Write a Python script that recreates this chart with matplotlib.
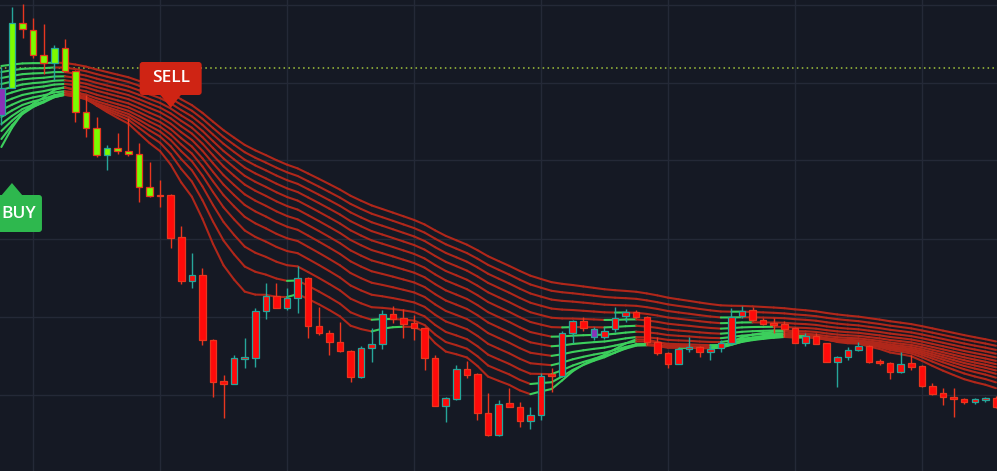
import numpy as np
import matplotlib
matplotlib.use("Agg")
import matplotlib.pyplot as plt
from matplotlib.collections import LineCollection
from matplotlib.patches import FancyBboxPatch, Polygon, Rectangle

# ---------------- data (price units, higher = up) ----------------
opens = [356, 383, 448, 441, 416, 408, 423, 400, 359, 343, 316, 323, 320, 317, 284, 276,
         276, 234, 190, 196, 131, 90, 87, 112.5, 113, 160, 175, 163, 173, 193, 145, 138,
         129, 120, 94, 123, 127, 157, 153, 148, 143, 113, 65, 72, 102, 97, 58, 36,
         68, 64, 50, 56, 97, 95, 138, 150, 134, 134, 142, 155, 159, 154, 129, 118,
         107, 122, 124, 119, 123, 128, 155, 161, 151, 147.5, 147, 143, 128, 135, 128, 109,
         114, 121, 125, 109.5, 108, 99, 108, 105, 85, 78, 74, 72, 69, 71.5, 73]
highs = [404, 464, 467, 453, 447, 426, 432, 401, 376, 354, 326, 338, 353, 328, 309, 291,
         277, 245, 218, 203, 132, 96, 116, 133, 163, 188, 188, 183, 205, 194, 164, 141,
         149, 121, 125, 143, 161, 165, 162, 156, 144, 116, 74, 106, 110, 98, 78, 71,
         83, 69, 64, 98, 103, 140, 151, 154, 144, 144, 164, 162, 161, 155, 134, 119,
         124, 134, 125, 126, 131, 163, 165, 164, 153, 153, 150, 144, 138, 138, 128, 115,
         124, 129, 126, 112, 109, 119, 116, 106, 88, 83, 83, 73, 73, 74, 75]
lows = [346, 383, 433, 413, 397, 391, 399, 349, 334, 314, 301, 317, 315, 269, 274, 264,
        223, 187, 183, 126, 74, 53, 87, 103, 104, 152, 163, 161, 158, 133, 136, 116,
        119, 89, 93, 109, 122, 148, 133, 131, 101, 65, 49, 71, 93, 51, 35, 35,
        64, 44, 42, 51, 79, 94, 128, 140, 131, 132, 139, 149, 153, 126, 116, 103,
        107, 119, 114, 111, 119, 126, 153, 150, 146, 138, 134, 128, 125, 127, 109, 84,
        111, 120, 108, 106, 92, 98, 101, 84, 76, 66, 54, 67, 67, 69, 63]
closes = [383, 448, 442, 416, 408, 423, 400, 359, 343, 316, 323, 320, 317, 284, 275, 275,
          233, 190, 196, 131, 89, 87, 113, 113.5, 160, 175, 163, 173, 193, 145, 138, 129,
          120, 94, 123, 127, 157, 152, 147, 143, 113, 65, 73, 102, 96, 58, 36, 67,
          64, 50, 56, 95, 95, 138, 150, 143, 142, 140, 153, 159, 154, 129, 118, 107,
          122, 124, 119, 122, 128, 154, 160, 151, 147, 146.5, 142, 128, 135, 127, 109, 114,
          121, 125, 109, 108.5, 99, 107, 104, 85, 77, 74, 72, 69, 72, 72.5, 64]
# trend state painted on candle bodies: L = lime, R = red, P = purple
body_state = list("PLLLLLLLLLLLLLLL" + "R" * 40 + "P" + "R" * 38)

# EMA ribbon settings and starting values (read at first visible bar)
ribbon_periods = [12, 16, 20, 24, 28, 32, 36, 40, 44, 48, 52, 56, 60]
ribbon_seed = [324, 332, 340, 347, 354, 361, 368, 375, 381, 387, 393, 399, 405]

signal_labels = ["BUY", "SELL"]
signal_bar = [1, 16]
signal_price = [288, 363]

ref_level = 403
grid_bars = [3, 15, 27, 39, 51, 63, 75, 87]
grid_prices = [76, 154, 232, 311, 388, 466]

# ---------------- styling ----------------
BG = '#151924'
GRID = '#242937'
UP_EDGE = '#26a69a'
DN_EDGE = '#e8361f'
BODY = {'L': '#7CFC00', 'R': '#ff0a0a', 'P': '#8a33b8'}
RIB_RED = '#b0271a'
RIB_GREEN = '#3ccf5c'

W, H = 997, 471
fig = plt.figure(figsize=(W / 100, H / 100), dpi=100)
fig.patch.set_facecolor(BG)
ax = fig.add_axes([0, 0, 1, 1])
ax.set_facecolor(BG)
n = len(closes)
ax.set_xlim(-0.13, 94.1)
ax.set_ylim(0, 471)
ax.axis('off')

for gx in grid_bars:
    ax.axvline(gx, color=GRID, lw=1, zorder=0)
for gy in grid_prices:
    ax.axhline(gy, color=GRID, lw=1, zorder=0)

ax.axhline(ref_level, color='#a3c63c', lw=1.1, ls=(0, (1, 2.2)), zorder=1)

# ribbon
closes_arr = np.array(closes, dtype=float)
xs = np.arange(n)
for per, seed in zip(ribbon_periods, ribbon_seed):
    a = 2.0 / (per + 1)
    ema = np.empty(n)
    ema[0] = seed
    for i in range(1, n):
        ema[i] = ema[i - 1] + a * (closes_arr[i] - ema[i - 1])
    segs = [[(xs[i - 1], ema[i - 1]), (xs[i], ema[i])] for i in range(1, n)]
    cols = [RIB_GREEN if closes_arr[i] > ema[i] else RIB_RED for i in range(1, n)]
    lc = LineCollection(segs, colors=cols, linewidths=1.5, zorder=2, capstyle='round')
    ax.add_collection(lc)

# candles
bw = 0.62
for i in range(n):
    o, h, l, c = opens[i], highs[i], lows[i], closes[i]
    up = c >= o
    ec = UP_EDGE if up else DN_EDGE
    ax.plot([i, i], [l, h], color=ec, lw=1.0, zorder=3, solid_capstyle='butt')
    lo, hi = min(o, c), max(o, c)
    ax.add_patch(Rectangle((i - bw / 2, lo), bw, max(hi - lo, 1.2),
                           facecolor=BODY[body_state[i]], edgecolor=ec, lw=0.9, zorder=4))

# signal labels in pixel space
ov = fig.add_axes([0, 0, 1, 1], zorder=5)
ov.set_xlim(0, W)
ov.set_ylim(0, H)
ov.axis('off')
ov.patch.set_alpha(0)
for lab, b, p in zip(signal_labels, signal_bar, signal_price):
    px, py = ax.transData.transform((b, p))
    if lab == "SELL":
        col = '#cf2414'
        bw_, bh = 62, 33
        y0 = py + 13
        tri = [(px - 11, y0 + 1), (px + 11, y0 + 1), (px, py)]
        ty = y0 + bh / 2
        tx = px
        ha = 'center'
    else:
        col = '#2eb84e'
        bw_, bh = 60, 37
        y0 = py - 12 - bh
        tri = [(px - 11, y0 + bh - 1), (px + 11, y0 + bh - 1), (px, py)]
        ty = y0 + bh / 2
        tx = 1
        ha = 'left'
    ov.add_patch(FancyBboxPatch((px - bw_ / 2 + 3, y0 + 3), bw_ - 6, bh - 6,
                                boxstyle="round,pad=3", facecolor=col, edgecolor='none'))
    ov.add_patch(Polygon(tri, closed=True, facecolor=col, edgecolor='none'))
    ov.text(tx, ty, lab, color='white', fontsize=12.5, fontweight='semibold',
            family=['Open Sans', 'DejaVu Sans'], ha=ha, va='center')

fig.savefig('out.png', dpi=100, facecolor=BG)
